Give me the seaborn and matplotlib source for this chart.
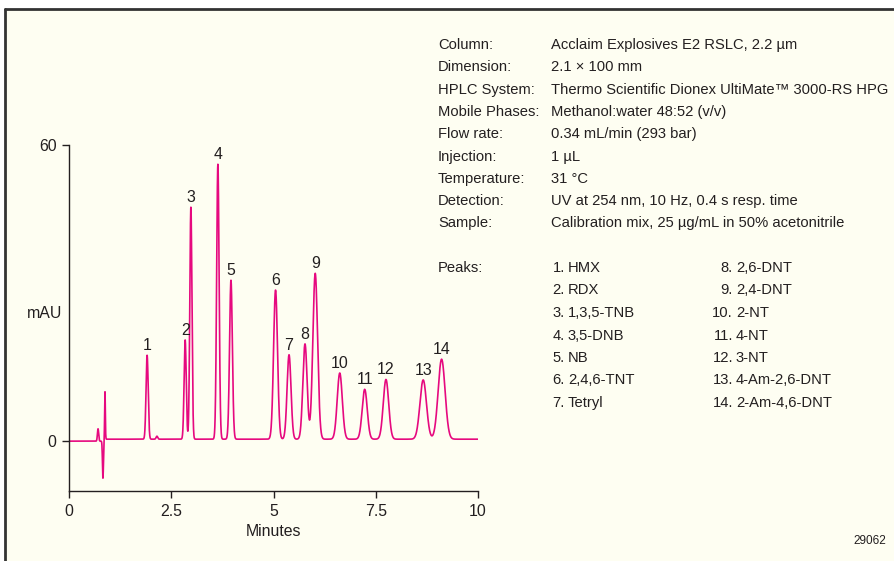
import numpy as np
import pandas as pd
import matplotlib
matplotlib.use("Agg")
import matplotlib.pyplot as plt
from matplotlib.lines import Line2D
import seaborn as sns

# Peak table (retention time in min, height in mAU, sigma in min)
peak_ids = [str(i) for i in range(1, 15)]
peak_times = [1.91, 2.84, 2.98, 3.64, 3.96, 5.05, 5.38, 5.77, 6.02, 6.62, 7.23, 7.75, 8.66, 9.11]
peak_heights = [17.0, 20.1, 47.0, 55.7, 32.2, 30.2, 17.1, 19.3, 33.6, 13.4, 10.1, 12.1, 12.0, 16.2]
peak_sigmas = [0.026, 0.026, 0.026, 0.030, 0.034, 0.048, 0.048, 0.052, 0.058, 0.062, 0.062, 0.066, 0.080, 0.085]

# Injection disturbance and small baseline blips
blip_times = [0.71, 0.83, 0.88, 2.15]
blip_heights = [2.5, -7.5, 10.0, 0.6]
blip_sigmas = [0.015, 0.012, 0.009, 0.02]

compound_names = ["HMX", "RDX", "1,3,5-TNB", "3,5-DNB", "NB", "2,4,6-TNT", "Tetryl",
                  "2,6-DNT", "2,4-DNT", "2-NT", "4-NT", "3-NT", "4-Am-2,6-DNT", "2-Am-4,6-DNT"]

cond_keys = ["Column:", "Dimension:", "HPLC System:", "Mobile Phases:", "Flow rate:",
             "Injection:", "Temperature:", "Detection:", "Sample:"]
cond_values = ["Acclaim Explosives E2 RSLC, 2.2 µm", "2.1 × 100 mm",
               "Thermo Scientific Dionex UltiMate™ 3000-RS HPG",
               "Methanol:water 48:52 (v/v)", "0.34 mL/min (293 bar)", "1 µL", "31 °C",
               "UV at 254 nm, 10 Hz, 0.4 s resp. time",
               "Calibration mix, 25 µg/mL in 50% acetonitrile"]

x_ticks = [0, 2.5, 5, 7.5, 10]
x_tick_labels = ["0", "2.5", "5", "7.5", "10"]
y_ticks = [0, 60]

# build the trace from the peak table
t = np.linspace(0, 10, 4001)
signal = np.zeros_like(t)
for rt, h, s in zip(peak_times + blip_times, peak_heights + blip_heights, peak_sigmas + blip_sigmas):
    signal += h * np.exp(-0.5 * ((t - rt) / s) ** 2)
signal += np.where(t > 0.9, 0.4, 0.0)
trace = pd.DataFrame({"Minutes": t, "mAU": signal})

sns.set_style("ticks")
plt.rcParams["font.family"] = ["Liberation Sans", "DejaVu Sans"]
ink = "#231f20"
bg = "#fefef2"
pink = "#e6097f"
fs = 10.6

fig = plt.figure(figsize=(8.94, 5.61), dpi=100)
fig.patch.set_facecolor("white")
W, H = 894, 561

def fx(px):
    return px / W

def fy(py):
    return 1 - py / H

# cream panel with border on top and left
fig.patches.append(plt.Rectangle((fx(5), 0), 1 - fx(5), fy(9), transform=fig.transFigure,
                                 facecolor=bg, edgecolor="none", zorder=-5))
fig.lines.append(Line2D([fx(5), 1], [fy(9), fy(9)], transform=fig.transFigure, color="#333333", lw=2, zorder=-4))
fig.lines.append(Line2D([fx(5), fx(5)], [fy(9), 0], transform=fig.transFigure, color="#333333", lw=2, zorder=-4))

ax = fig.add_axes([fx(69), fy(491), fx(478) - fx(69), fy(145) - fy(491)])
ax.set_facecolor("none")
sns.lineplot(data=trace, x="Minutes", y="mAU", color=pink, lw=1.2, ax=ax)
ax.set_xlim(0, 10)
ax.set_ylim(-10.1, 60)
ax.set_xticks(x_ticks)
ax.set_xticklabels(x_tick_labels)
ax.set_yticks(y_ticks)
ax.tick_params(colors=ink, labelsize=fs + 0.8, length=5, width=1, direction="out", pad=4)
for side in ["top", "right"]:
    ax.spines[side].set_visible(False)
for side in ["left", "bottom"]:
    ax.spines[side].set_color(ink)
    ax.spines[side].set_linewidth(1)
ax.set_xlabel("Minutes", fontsize=fs + 0.8, color=ink, labelpad=4)
ax.set_ylabel("")
fig.text(fx(45), fy(314), "mAU", fontsize=fs + 0.8, color=ink, ha="center", va="center")

for pid, rt, h in zip(peak_ids, peak_times, peak_heights):
    ax.annotate(pid, (rt, h), xytext=(0, 3), textcoords="offset points",
                ha="center", va="bottom", fontsize=fs + 0.8, color=ink)

# conditions block
for i, (k, v) in enumerate(zip(cond_keys, cond_values)):
    y = fy(45 + i * 22.3)
    fig.text(fx(438), y, k, fontsize=fs, color=ink, va="center")
    fig.text(fx(551), y, v, fontsize=fs, color=ink, va="center")

fig.text(fx(438), fy(268), "Peaks:", fontsize=fs, color=ink, va="center")
for i, name in enumerate(compound_names):
    col, row = divmod(i, 7)
    y = fy(268 + row * 22.5)
    num_x = 565 if col == 0 else 733
    fig.text(fx(num_x), y, f"{i + 1}.", fontsize=fs, color=ink, va="center", ha="right")
    fig.text(fx(num_x + 3), y, name, fontsize=fs, color=ink, va="center", ha="left")

fig.text(fx(886), fy(541), "29062", fontsize=8.5, color=ink, ha="right", va="center")

fig.savefig("out.png", dpi=100, facecolor=fig.get_facecolor())
